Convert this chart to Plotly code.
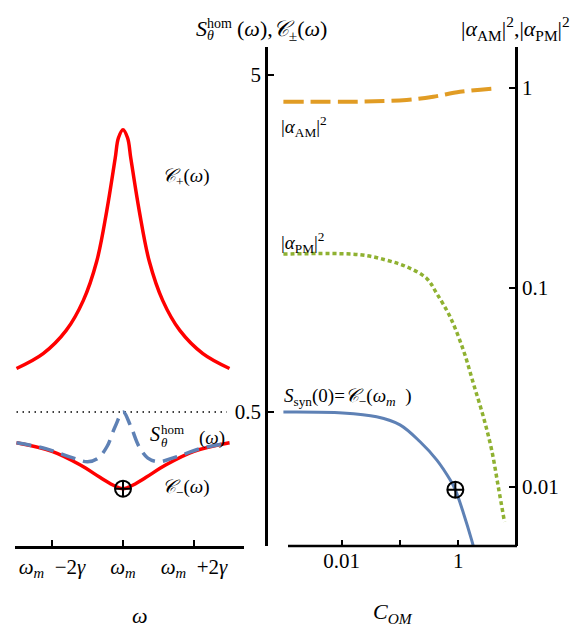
import math
import plotly.graph_objects as go

W, H = 583, 627


def px(x):
    return x / W


def py(y):
    return 1 - y / H


# ---------------- data: left panel (omega - omega_m in units of gamma) ----------------
omega_plus = [-3.0, -2.25, -1.6, -1.12, -0.74, -0.46, -0.22, -0.13, 0.0,
              0.13, 0.22, 0.46, 0.74, 1.12, 1.6, 2.25, 3.0]
c_plus = [0.673, 0.745, 0.873, 1.07, 1.40, 1.97, 2.83, 3.25, 3.44,
          3.25, 2.83, 1.97, 1.40, 1.07, 0.873, 0.745, 0.673]

omega_minus = [-3.0, -2.0, -1.2, -0.65, -0.3, -0.12, 0.0, 0.12, 0.3, 0.65, 1.2, 2.0, 3.0]
c_minus = [0.405, 0.382, 0.348, 0.32, 0.304, 0.298, 0.296, 0.298, 0.304, 0.32, 0.348, 0.382, 0.405]

omega_hom = [-3.0, -2.2, -1.5, -1.0, -0.7, -0.45, -0.22, 0.0,
             0.22, 0.45, 0.7, 1.0, 1.5, 2.2, 3.0]
s_hom = [0.405, 0.39, 0.368, 0.356, 0.365, 0.395, 0.453, 0.5,
         0.453, 0.395, 0.365, 0.356, 0.368, 0.39, 0.405]

ref_omega = [-3.0, 2.93]
ref_level = [0.5, 0.5]

mark_omega = [0.0]
mark_left = [0.296]

# ---------------- data: right panel (C_OM) ----------------
com_syn = [0.001, 0.0104, 0.0396, 0.1, 0.221, 0.429, 0.728, 0.888, 1.23, 1.70, 1.85]
s_syn = [0.5, 0.497, 0.484, 0.458, 0.408, 0.360, 0.314, 0.294, 0.250, 0.208, 0.197]

com_am = [0.001, 0.0206, 0.130, 0.372, 1.07, 4.56]
alpha_am = [0.854, 0.854, 0.871, 0.904, 0.958, 0.997]

com_pm = [0.001, 0.0206, 0.0591, 0.130, 0.287, 0.425, 0.721, 1.22, 1.81, 2.69, 3.74, 4.86, 6.20]
alpha_pm = [0.147, 0.146, 0.137, 0.127, 0.111, 0.0935, 0.0714, 0.0486, 0.0331,
            0.0225, 0.0153, 0.0100, 0.00668]

mark_com = [0.89]
mark_right = [0.294]

# tick labels
omega_ticks = [-2, 0, 2]
omega_ticktext = ["<i>ω</i><sub><i>m</i></sub>  −2<i>γ</i>", "<i>ω</i><sub><i>m</i></sub>",
                  "<i>ω</i><sub><i>m</i></sub>  +2<i>γ</i>"]
left_ticks = [5, 0.5]
left_ticktext = ["5", "0.5"]
com_ticks = [0.01, 0.1, 1]
com_ticktext = ["0.01", "", "1"]
right_ticks = [1, 0.1, 0.01]
right_ticktext = ["1", "0.1", "0.01"]

RED = "#FF0000"
BLUE = "#5E81B5"
ORANGE = "#E19C24"
GREEN = "#8FB131"
FONT = "Liberation Serif"

fig = go.Figure()

# left panel
fig.add_trace(go.Scatter(x=ref_omega, y=ref_level, xaxis="x", yaxis="y", mode="lines",
                         line=dict(color="black", width=1.5, dash="1.5px,4.5px")))
fig.add_trace(go.Scatter(x=omega_plus, y=c_plus, xaxis="x", yaxis="y", mode="lines",
                         line=dict(color=RED, width=3.5, shape="spline")))
fig.add_trace(go.Scatter(x=omega_minus, y=c_minus, xaxis="x", yaxis="y", mode="lines",
                         line=dict(color=RED, width=3.5, shape="spline")))
fig.add_trace(go.Scatter(x=omega_hom, y=s_hom, xaxis="x", yaxis="y", mode="lines",
                         line=dict(color=BLUE, width=3.5, shape="spline", dash="15px,8px")))
fig.add_trace(go.Scatter(x=mark_omega, y=mark_left, xaxis="x", yaxis="y", mode="markers",
                         marker=dict(symbol="circle-cross-open", size=16, color="black",
                                     line=dict(width=2, color="black"))))

# right panel
fig.add_trace(go.Scatter(x=com_syn, y=s_syn, xaxis="x2", yaxis="y", mode="lines",
                         line=dict(color=BLUE, width=3, shape="spline")))
fig.add_trace(go.Scatter(x=com_am, y=alpha_am, xaxis="x2", yaxis="y2", mode="lines",
                         line=dict(color=ORANGE, width=4, shape="spline", dash="20px,7px")))
fig.add_trace(go.Scatter(x=com_pm, y=alpha_pm, xaxis="x2", yaxis="y2", mode="lines",
                         line=dict(color=GREEN, width=3.5, shape="spline", dash="4px,3px")))
fig.add_trace(go.Scatter(x=mark_com, y=mark_right, xaxis="x2", yaxis="y", mode="markers",
                         marker=dict(symbol="circle-cross-open", size=16, color="black",
                                     line=dict(width=2, color="black"))))

tickfont = dict(family=FONT, size=21, color="black")
axis_common = dict(showgrid=False, zeroline=False, linecolor="black", linewidth=2.5,
                   ticks="inside", ticklen=6, tickwidth=2, tickcolor="black",
                   tickfont=tickfont)

# left y axis: log, 5 at y=75px, 0.5 at y=412px
dec_l = 412 - 75
ly_top = math.log10(5) + (75 - 47) / dec_l
ly_bot = math.log10(0.5) - (546 - 412) / dec_l
# right y axis: 1 at 88px, 0.01 at 487px
dec_r = (487 - 88) / 2
ry_top = (88 - 47) / dec_r
ry_bot = -(546 - 88) / dec_r
# right x axis: 0.01 at 341.7px, 58.3 px/decade
dec_x = 58.3
rx_l = -2 + (282 - 341.7) / dec_x
rx_r = -2 + (515 - 341.7) / dec_x

fig.update_layout(
    width=W, height=H, margin=dict(l=0, r=0, t=0, b=0),
    paper_bgcolor="white", plot_bgcolor="rgba(0,0,0,0)",
    showlegend=False,
    font=dict(family=FONT, color="black"),
    xaxis=dict(domain=[px(15), px(244)], range=[(15 - 123) / 35.5, (244 - 123) / 35.5],
               anchor="y", showline=True, tickvals=omega_ticks, ticktext=omega_ticktext,
               **axis_common),
    yaxis=dict(type="log", domain=[py(546), py(47)], range=[ly_bot, ly_top],
               anchor="free", position=px(266), showline=True,
               tickvals=left_ticks, ticktext=left_ticktext, **axis_common),
    xaxis2=dict(type="log", domain=[px(282), px(515)], range=[rx_l, rx_r],
                anchor="y", showline=False, tickvals=com_ticks, ticktext=com_ticktext,
                **axis_common),
    yaxis2=dict(type="log", overlaying="y", side="right", anchor="x2",
                range=[ry_bot, ry_top], showline=True,
                tickvals=right_ticks, ticktext=right_ticktext, **axis_common),
    shapes=[dict(type="line", xref="paper", yref="paper", x0=px(288), x1=px(517),
                 y0=py(546), y1=py(546), line=dict(color="black", width=2.5))],
)


def ann(text, x, y, size=19, xanchor="left"):
    fig.add_annotation(text=text, x=px(x), y=py(y), xref="paper", yref="paper",
                       xanchor=xanchor, yanchor="middle", showarrow=False,
                       font=dict(family=FONT, size=size, color="black"))


# left axis title: S_theta^hom(omega), C_pm(omega)
ann("<i>S</i>", 209, 29, size=22, xanchor="right")
ann("hom", 205, 23, size=14)
ann("<i>θ</i>", 205, 35, size=14)
ann("(<i>ω</i>),<i>𝒞</i><sub>±</sub>(<i>ω</i>)", 235, 30, size=22)

# right axis title
ann("|<i>α</i><sub>AM</sub>|<sup>2</sup>,|<i>α</i><sub>PM</sub>|<sup>2</sup>", 515, 28,
    size=22, xanchor="center")

# curve labels, left panel
ann("<i>𝒞</i><sub>+</sub>(<i>ω</i>)", 160, 177, size=19)
ann("<i>S</i>", 162, 434, size=20, xanchor="right")
ann("hom", 159, 430, size=13)
ann("<i>θ</i>", 159, 442, size=13)
ann("(<i>ω</i>)", 197, 438, size=19)
ann("<i>𝒞</i><sub>−</sub>(<i>ω</i>)", 160, 488, size=19)

# curve labels, right panel
ann("|<i>α</i><sub>AM</sub>|<sup>2</sup>", 279, 127, size=19)
ann("|<i>α</i><sub>PM</sub>|<sup>2</sup>", 279, 242, size=19)
ann("<i>S</i><sub>syn</sub>(0)=<i>𝒞</i><sub>−</sub>(<i>ω</i><sub><i>m</i></sub>  )", 282, 397, size=19)

# axis titles
ann("<i>ω</i>", 140, 615, size=22, xanchor="center")
ann("<i>C</i><sub><i>OM</i></sub>", 393, 613, size=22, xanchor="center")

fig.write_html("out.html", config=dict(displayModeBar=False),
               post_script="document.body.style.margin='0';document.body.style.overflow='hidden';")
